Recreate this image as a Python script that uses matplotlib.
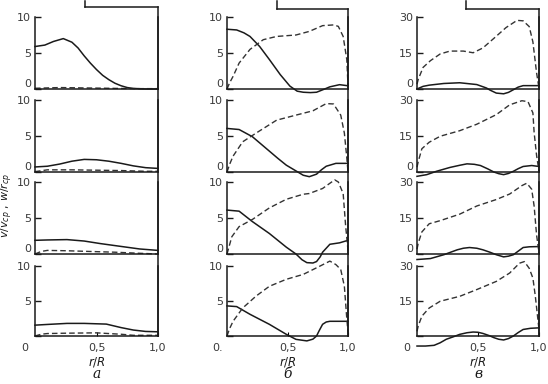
import matplotlib
matplotlib.use('Agg')
import matplotlib.pyplot as plt
from matplotlib.lines import Line2D

# ---- data (r/R, v/v_cp solid, w/r_cp dashed) ----
# column a
a1_x = [0, 0.08, 0.15, 0.23, 0.3, 0.35, 0.4, 0.45, 0.5, 0.55, 0.6, 0.65, 0.7, 0.75, 0.8, 0.9, 1.0]
a1_v = [5.9, 6.1, 6.6, 7.0, 6.5, 5.7, 4.6, 3.6, 2.7, 1.9, 1.3, 0.8, 0.45, 0.2, 0.08, 0, 0]
a1_wx = [0, 0.2, 0.4, 0.6, 0.8, 1.0]
a1_w = [0.1, 0.2, 0.15, 0.1, 0.05, 0.05]

a2_x = [0, 0.1, 0.2, 0.3, 0.4, 0.5, 0.6, 0.7, 0.8, 0.9, 1.0]
a2_v = [0.7, 0.8, 1.1, 1.5, 1.75, 1.7, 1.5, 1.2, 0.85, 0.6, 0.5]
a2_wx = [0, 0.1, 0.3, 0.5, 0.7, 0.9, 1.0]
a2_w = [0.05, 0.3, 0.3, 0.25, 0.2, 0.1, 0.1]

a3_x = [0, 0.1, 0.26, 0.4, 0.53, 0.7, 0.85, 1.0]
a3_v = [1.9, 1.95, 2.0, 1.8, 1.45, 1.05, 0.7, 0.5]
a3_wx = [0, 0.05, 0.1, 0.26, 0.45, 0.65, 0.85, 1.0]
a3_w = [0, 0.35, 0.5, 0.45, 0.35, 0.25, 0.1, 0]

a4_x = [0, 0.1, 0.26, 0.4, 0.58, 0.7, 0.8, 0.9, 1.0]
a4_v = [1.55, 1.65, 1.8, 1.8, 1.7, 1.2, 0.85, 0.65, 0.6]
a4_wx = [0, 0.05, 0.1, 0.25, 0.5, 0.7, 0.8, 1.0]
a4_w = [0, 0.25, 0.35, 0.4, 0.45, 0.25, 0.1, 0.1]

# column b
b1_x = [0, 0.08, 0.14, 0.19, 0.27, 0.35, 0.44, 0.52, 0.58, 0.63, 0.69, 0.74, 0.8, 0.85, 0.93, 1.0]
b1_v = [8.3, 8.2, 7.8, 7.3, 5.9, 4.1, 2.0, 0.4, -0.3, -0.45, -0.5, -0.45, -0.05, 0.3, 0.6, 0.45]
b1_wx = [0, 0.02, 0.05, 0.1, 0.19, 0.3, 0.41, 0.57, 0.68, 0.79, 0.88, 0.92, 0.96, 0.99, 1.0]
b1_w = [0, 0.8, 1.75, 3.6, 5.5, 6.85, 7.3, 7.5, 8.0, 8.8, 8.9, 8.7, 7.3, 4.1, 0.5]

b2_x = [0, 0.1, 0.21, 0.28, 0.35, 0.42, 0.49, 0.57, 0.63, 0.68, 0.74, 0.78, 0.82, 0.9, 1.0]
b2_v = [6.05, 5.9, 4.9, 3.9, 2.9, 1.9, 0.95, 0.15, -0.45, -0.65, -0.3, 0.3, 0.8, 1.2, 1.2]
b2_wx = [0, 0.02, 0.05, 0.13, 0.24, 0.41, 0.57, 0.71, 0.82, 0.88, 0.94, 0.97, 0.99, 1.0]
b2_w = [0, 1.0, 2.2, 4.2, 5.4, 7.2, 7.9, 8.5, 9.5, 9.45, 7.9, 5.4, 2.0, 0]

b3_x = [0, 0.1, 0.21, 0.35, 0.49, 0.57, 0.62, 0.66, 0.71, 0.74, 0.77, 0.79, 0.85, 0.93, 1.0]
b3_v = [6.1, 5.95, 4.5, 2.85, 0.95, 0, -0.8, -1.2, -1.25, -1.05, -0.4, 0.25, 1.35, 1.55, 1.9]
b3_wx = [0, 0.02, 0.04, 0.1, 0.21, 0.35, 0.49, 0.63, 0.68, 0.79, 0.89, 0.92, 0.96, 0.98, 1.0]
b3_w = [0, 1.2, 2.4, 3.8, 4.8, 6.4, 7.6, 8.3, 8.4, 9.1, 10.3, 10.0, 8.4, 4.0, 0.5]

b4_x = [0, 0.08, 0.19, 0.35, 0.49, 0.57, 0.66, 0.71, 0.74, 0.76, 0.79, 0.82, 0.85, 0.92, 1.0]
b4_v = [4.3, 4.2, 3.1, 1.67, 0.24, -0.48, -0.7, -0.45, 0, 0.7, 1.67, 2.0, 2.1, 2.1, 2.1]
b4_wx = [0, 0.02, 0.05, 0.13, 0.24, 0.35, 0.49, 0.63, 0.77, 0.85, 0.9, 0.94, 0.97, 0.99, 1.0]
b4_w = [0, 1.0, 2.1, 4.0, 5.7, 7.1, 8.1, 8.8, 10.0, 10.7, 10.2, 9.5, 7.1, 2.5, 0.5]

# column c
c1_x = [0, 0.05, 0.1, 0.22, 0.35, 0.49, 0.57, 0.6, 0.65, 0.71, 0.75, 0.79, 0.83, 0.87, 1.0]
c1_v = [0, 1.1, 1.6, 2.3, 2.6, 1.85, 0.4, -0.5, -1.7, -2.0, -1.4, -0.3, 0.8, 1.4, 1.4]
c1_wx = [0, 0.01, 0.05, 0.11, 0.19, 0.27, 0.38, 0.46, 0.54, 0.63, 0.73, 0.82, 0.87, 0.92, 0.95, 0.98, 1.0]
c1_w = [2, 4, 9, 11.8, 14.6, 15.8, 15.8, 15.1, 17.1, 21.1, 25.6, 28.6, 28.4, 26.0, 19.6, 6.8, 0.4]

c2_x = [0, 0.08, 0.16, 0.27, 0.35, 0.41, 0.47, 0.52, 0.58, 0.63, 0.67, 0.71, 0.75, 0.79, 0.83, 0.87, 0.94, 1.0]
c2_v = [-1.8, -1.1, 0.3, 1.9, 2.8, 3.4, 3.2, 2.7, 1.3, 0, -0.7, -1.1, -0.6, 0.3, 1.4, 2.3, 2.7, 2.3]
c2_wx = [0, 0.01, 0.04, 0.1, 0.19, 0.35, 0.49, 0.65, 0.76, 0.86, 0.91, 0.95, 0.96, 0.98, 1.0]
c2_w = [2, 4.3, 9.7, 12.4, 14.9, 17.2, 19.9, 23.9, 28, 29.7, 29.3, 24.6, 16.5, 7, 0.3]

c3_x = [0, 0.11, 0.22, 0.33, 0.38, 0.43, 0.49, 0.54, 0.6, 0.65, 0.71, 0.75, 0.79, 0.83, 0.87, 0.92, 1.0]
c3_v = [-2.3, -1.9, -0.3, 1.75, 2.4, 2.7, 2.4, 1.75, 0.7, -0.3, -1.2, -0.9, -0.3, 1.2, 2.7, 3.0, 3.1]
c3_wx = [0, 0.01, 0.04, 0.1, 0.19, 0.35, 0.49, 0.65, 0.76, 0.86, 0.9, 0.94, 0.96, 0.98, 1.0]
c3_w = [2, 4.5, 9.2, 12.6, 13.9, 16.6, 20, 22.7, 25, 28.5, 29.5, 27, 20, 8, 0.5]

c4_x = [0, 0.07, 0.14, 0.19, 0.24, 0.3, 0.35, 0.41, 0.46, 0.5, 0.54, 0.59, 0.63, 0.67, 0.71, 0.75, 0.79, 0.83, 0.87, 0.93, 1.0]
c4_v = [-4.3, -4.3, -4, -2.9, -1.4, -0.3, 0.7, 1.4, 1.7, 1.6, 1.1, 0.2, -0.7, -1.4, -1.7, -1.1, 0, 1.5, 2.8, 3.3, 3.5]
c4_wx = [0, 0.01, 0.04, 0.1, 0.19, 0.35, 0.49, 0.65, 0.76, 0.84, 0.88, 0.92, 0.95, 0.97, 1.0]
c4_w = [2, 4.3, 8.5, 12, 14.9, 17, 19.9, 23.4, 27, 31.2, 31.9, 29, 24.8, 17, 2.8]

columns = [
    [(a1_x, a1_v, a1_wx, a1_w), (a2_x, a2_v, a2_wx, a2_w), (a3_x, a3_v, a3_wx, a3_w), (a4_x, a4_v, a4_wx, a4_w)],
    [(b1_x, b1_v, b1_wx, b1_w), (b2_x, b2_v, b2_wx, b2_w), (b3_x, b3_v, b3_wx, b3_w), (b4_x, b4_v, b4_wx, b4_w)],
    [(c1_x, c1_v, c1_wx, c1_w), (c2_x, c2_v, c2_wx, c2_w), (c3_x, c3_v, c3_wx, c3_w), (c4_x, c4_v, c4_wx, c4_w)],
]
y_max = [10, 10, 30]
y_ticks = [[0, 5, 10], [0, 5, 10], [0, 15, 30]]
col_letters = ['а', 'б', 'в']
zero_labels = ['0', '0.', '0']

W, H = 548, 384
col_px = [(35, 158), (227, 348), (417, 539)]
row_px = [(17, 89), (100, 172), (182, 254), (266, 336)]
bracket_px = [(85, 7), (277, 9), (466, 9)]

fig = plt.figure(figsize=(W / 100, H / 100), dpi=100)
ink = '#1a1a1a'
tick_col = '#3a3a3a'

for ci, col in enumerate(columns):
    x0, x1 = col_px[ci]
    for ri, (vx, vy, wx, wy) in enumerate(col):
        top, bot = row_px[ri]
        ax = fig.add_axes([x0 / W, 1 - bot / H, (x1 - x0) / W, (bot - top) / H])
        ax.plot(vx, vy, color=ink, lw=1.1, clip_on=False, solid_joinstyle='round')
        ax.plot(wx, wy, color='#333333', lw=1.0, dashes=(4, 2.2), clip_on=False)
        ax.set_xlim(0, 1)
        ax.set_ylim(0, y_max[ci])
        ax.spines['top'].set_visible(False)
        for s in ['left', 'bottom', 'right']:
            ax.spines[s].set_linewidth(1.1)
            ax.spines[s].set_color(ink)
        ax.set_yticks(y_ticks[ci])
        labels = [str(t) for t in y_ticks[ci]]
        if ri == 3:
            labels[0] = ''
        ax.set_yticklabels(labels)
        ax.tick_params(axis='y', direction='in', length=4, width=1, pad=3,
                       labelsize=8, labelcolor=tick_col, colors=ink)
        ax.tick_params(axis='y', labelcolor=tick_col)
        # zero label sits a little above the axis line
        ax.get_yticklabels()[0].set_verticalalignment('bottom')
        if ri == 3:
            ax.set_xticks([0.5, 1.0])
            ax.set_xticklabels(['0,5', '1,0'])
            ax.tick_params(axis='x', direction='in', length=3, pad=5,
                           labelsize=8, labelcolor=tick_col)
            ax.text(-0.08, -0.17, zero_labels[ci], transform=ax.transAxes,
                    ha='center', va='center', fontsize=8, color=tick_col)
            ax.text(0.5, -0.37, '$r/R$', transform=ax.transAxes,
                    ha='center', va='center', fontsize=8.5, color=ink)
            ax.text(0.5, -0.55, col_letters[ci], transform=ax.transAxes,
                    ha='center', va='center', fontsize=10, style='italic',
                    family='DejaVu Serif', color=ink)
        else:
            ax.set_xticks([])

    # right frame line and top bracket
    bx, by = bracket_px[ci]
    fig.add_artist(Line2D([x1 / W, x1 / W], [1 - by / H, 1 - row_px[3][1] / H],
                          color=ink, lw=1.1))
    fig.add_artist(Line2D([bx / W, x1 / W], [1 - by / H, 1 - by / H], color=ink, lw=1.1))
    fig.add_artist(Line2D([bx / W, bx / W], [1 - 1 / H, 1 - by / H], color=ink, lw=1.1))

fig.text(7 / W, 1 - 205 / H, r'$v/v_{ср}$ , $w/r_{ср}$', rotation=90,
         ha='center', va='center', fontsize=8, color=ink)

fig.savefig('out.png', dpi=100)
